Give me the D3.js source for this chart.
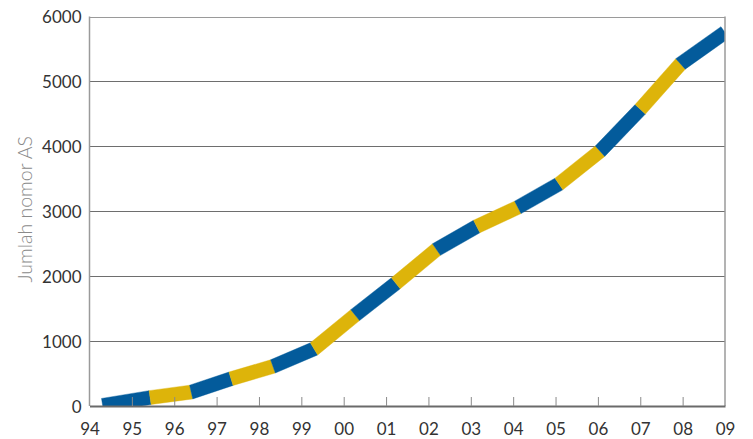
<!DOCTYPE html>
<html>
<head>
<meta charset="utf-8">
<script src="https://cdn.jsdelivr.net/npm/d3@7/dist/d3.min.js"></script>
<style>
  html, body { margin: 0; padding: 0; background: #fff; }
  svg { display: block; }
</style>
</head>
<body>
<svg id="chart" width="753" height="439"></svg>
<script>
// Year labels along the bottom axis (index 0 = 1994 ... 15 = 2009)
const yearLabels = ["94","95","96","97","98","99","00","01","02","03","04","05","06","07","08","09"];
// Measurement positions, in years since the 94 gridline
const pointPos = [0.31, 1.43, 2.40, 3.34, 4.33, 5.30, 6.27, 7.23, 8.19, 9.14, 10.11, 11.08, 12.05, 13.0, 13.95, 15.0];
// Number of AS numbers at each measurement
const asCounts = [10, 130, 215, 420, 610, 880, 1400, 1890, 2410, 2765, 3060, 3420, 3925, 4570, 5270, 5755];
// Value axis ticks
const yTicks = [0, 1000, 2000, 3000, 4000, 5000, 6000];

const W = 753, H = 439;
const m = { left: 89.5, right: 28, top: 16.5, bottom: 33 };
const x0 = m.left, x1 = W - m.right, y0 = H - m.bottom, y1 = m.top;

const svg = d3.select("#chart");
const x = d3.scaleLinear().domain([0, yearLabels.length - 1]).range([x0, x1]);
const y = d3.scaleLinear().domain([0, 6000]).range([y0, y1]);

const FONT = "Lato, 'Open Sans', sans-serif";

// Horizontal gridlines
svg.append("g").selectAll("line")
  .data(yTicks.filter(d => d > 0))
  .join("line")
  .attr("x1", x0).attr("x2", x1)
  .attr("y1", d => Math.round(y(d)) + 0.5).attr("y2", d => Math.round(y(d)) + 0.5)
  .attr("stroke", d => d === 6000 ? "#9a9a9a" : "#6e6e6e")
  .attr("stroke-width", 1);

// Plot clip region
svg.append("clipPath").attr("id", "plotClip")
  .append("rect").attr("x", x0).attr("y", y1).attr("width", x1 - x0).attr("height", y0 - y1);

// Thick line built from mitred quads so each span can take its own colour
const pts = pointPos.map((p, i) => [x(p), y(asCounts[i])]);
const half = 7;
function unitNormal(a, b) {
  const dx = b[0] - a[0], dy = b[1] - a[1], L = Math.hypot(dx, dy);
  return [-dy / L, dx / L];
}
const offs = pts.map((p, i) => {
  if (i === 0) { const n = unitNormal(pts[0], pts[1]); return [n[0] * half, n[1] * half]; }
  if (i === pts.length - 1) { const n = unitNormal(pts[i - 1], pts[i]); return [n[0] * half, n[1] * half]; }
  const n1 = unitNormal(pts[i - 1], pts[i]), n2 = unitNormal(pts[i], pts[i + 1]);
  let mx = n1[0] + n2[0], my = n1[1] + n2[1];
  const ml = Math.hypot(mx, my); mx /= ml; my /= ml;
  const s = half / (mx * n1[0] + my * n1[1]);
  return [mx * s, my * s];
});
const spans = d3.range(pts.length - 1).map(i => {
  const a = pts[i], b = pts[i + 1], oa = offs[i], ob = offs[i + 1];
  return {
    i,
    poly: [[a[0] + oa[0], a[1] + oa[1]], [b[0] + ob[0], b[1] + ob[1]],
           [b[0] - ob[0], b[1] - ob[1]], [a[0] - oa[0], a[1] - oa[1]]]
  };
});
const colours = ["#035b9b", "#ddb40a"];
svg.append("g").attr("clip-path", "url(#plotClip)")
  .selectAll("path").data(spans).join("path")
  .attr("d", d => "M" + d.poly.map(p => p.join(",")).join("L") + "Z")
  .attr("fill", d => colours[d.i % 2])
  .attr("stroke", d => colours[d.i % 2])
  .attr("stroke-width", 0.4);

// Frame: left axis and right border
svg.append("line").attr("x1", x0).attr("x2", x0).attr("y1", y1).attr("y2", y0)
  .attr("stroke", "#9a9a9a").attr("stroke-width", 1.5);
svg.append("line").attr("x1", x1).attr("x2", x1).attr("y1", y1).attr("y2", y0)
  .attr("stroke", "#9a9a9a").attr("stroke-width", 1.5);

// Bottom axis with inward year ticks
const xAxis = d3.axisBottom(x)
  .tickValues(d3.range(yearLabels.length))
  .tickFormat(i => yearLabels[i])
  .tickSizeInner(-9).tickSizeOuter(0).tickPadding(17);
const gx = svg.append("g").attr("transform", `translate(0,${y0})`).call(xAxis);
gx.select(".domain").attr("stroke", "#6a6a6a").attr("stroke-width", 2);
gx.selectAll(".tick line").attr("stroke", "#8a8a8a").attr("stroke-width", 1)
  .attr("display", (d, i) => (i === 0 || i === yearLabels.length - 1) ? "none" : null);
gx.selectAll(".tick text")
  .attr("font-family", FONT).attr("font-size", 17).attr("fill", "#333")
  .attr("dy", "0.71em");

// Value axis labels
const yAxis = d3.axisLeft(y).tickValues(yTicks).tickSize(0).tickPadding(8).tickFormat(d3.format("d"));
const gy = svg.append("g").attr("transform", `translate(${x0},0)`).call(yAxis);
gy.select(".domain").remove();
gy.selectAll(".tick text")
  .attr("font-family", FONT).attr("font-size", 17).attr("fill", "#333")
  .attr("dy", "0.38em");

// Axis title
svg.append("text")
  .attr("transform", `translate(31.5,${(y0 + y1) / 2 - 2}) rotate(-90)`)
  .attr("text-anchor", "middle")
  .attr("font-family", FONT).attr("font-weight", 300)
  .attr("font-size", 19.5).attr("fill", "#8a8a8a")
  .text("Jumlah nomor AS");
</script>
</body>
</html>
